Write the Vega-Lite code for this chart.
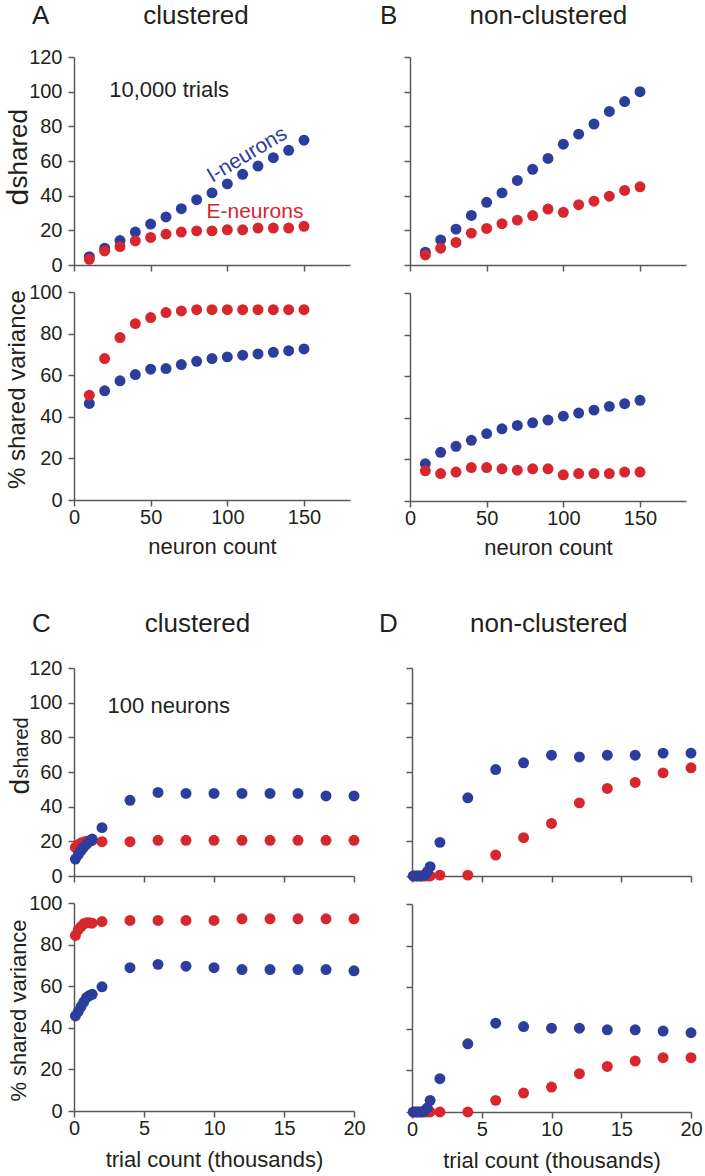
{
 "$schema": "https://vega.github.io/schema/vega-lite/v6.json",
 "background": "white",
 "padding": {"left": 3, "top": 3, "right": 5, "bottom": 5},
 "config": {
  "view": {"stroke": null},
  "font": "Liberation Sans",
  "axis": {"grid": false, "domainColor": "#58595b", "tickColor": "#58595b", "domainWidth": 1.5, "tickWidth": 1.5, "tickSize": 6, "labelFont": "Liberation Sans", "labelFontSize": 20, "labelColor": "#231f20", "labelPadding": 6, "labelFlush": false, "labelOverlap": false, "titleFont": "Liberation Sans", "titleFontWeight": "normal", "titleColor": "#231f20"},
  "title": {"font": "Liberation Sans", "fontSize": 26, "fontWeight": "normal", "color": "#231f20", "anchor": "start", "frame": "group", "baseline": "alphabetic"},
  "text": {"font": "Liberation Sans"}
 },
 "datasets": {
  "pts": [
   {"panel":"A1","type":"I","x":10,"y":4.8},{"panel":"A1","type":"I","x":20,"y":9.7},{"panel":"A1","type":"I","x":30,"y":14.1},{"panel":"A1","type":"I","x":40,"y":19.0},{"panel":"A1","type":"I","x":50,"y":23.6},{"panel":"A1","type":"I","x":60,"y":27.7},{"panel":"A1","type":"I","x":70,"y":32.5},{"panel":"A1","type":"I","x":80,"y":37.7},{"panel":"A1","type":"I","x":90,"y":41.6},{"panel":"A1","type":"I","x":100,"y":46.8},{"panel":"A1","type":"I","x":110,"y":52.3},{"panel":"A1","type":"I","x":120,"y":57.1},{"panel":"A1","type":"I","x":130,"y":61.9},{"panel":"A1","type":"I","x":140,"y":66.2},{"panel":"A1","type":"I","x":150,"y":72.0},
   {"panel":"A1","type":"E","x":10,"y":3.3},{"panel":"A1","type":"E","x":20,"y":8.1},{"panel":"A1","type":"E","x":30,"y":10.6},{"panel":"A1","type":"E","x":40,"y":13.9},{"panel":"A1","type":"E","x":50,"y":15.9},{"panel":"A1","type":"E","x":60,"y":17.8},{"panel":"A1","type":"E","x":70,"y":19.0},{"panel":"A1","type":"E","x":80,"y":19.7},{"panel":"A1","type":"E","x":90,"y":19.7},{"panel":"A1","type":"E","x":100,"y":20.3},{"panel":"A1","type":"E","x":110,"y":20.3},{"panel":"A1","type":"E","x":120,"y":21.3},{"panel":"A1","type":"E","x":130,"y":21.3},{"panel":"A1","type":"E","x":140,"y":21.3},{"panel":"A1","type":"E","x":150,"y":22.3},
   {"panel":"A2","type":"I","x":10,"y":46.4},{"panel":"A2","type":"I","x":20,"y":52.5},{"panel":"A2","type":"I","x":30,"y":57.3},{"panel":"A2","type":"I","x":40,"y":60.3},{"panel":"A2","type":"I","x":50,"y":62.9},{"panel":"A2","type":"I","x":60,"y":63.2},{"panel":"A2","type":"I","x":70,"y":65.1},{"panel":"A2","type":"I","x":80,"y":66.7},{"panel":"A2","type":"I","x":90,"y":68.0},{"panel":"A2","type":"I","x":100,"y":68.8},{"panel":"A2","type":"I","x":110,"y":69.6},{"panel":"A2","type":"I","x":120,"y":70.2},{"panel":"A2","type":"I","x":130,"y":71.0},{"panel":"A2","type":"I","x":140,"y":71.8},{"panel":"A2","type":"I","x":150,"y":72.6},
   {"panel":"A2","type":"E","x":10,"y":50.4},{"panel":"A2","type":"E","x":20,"y":68.0},{"panel":"A2","type":"E","x":30,"y":78.1},{"panel":"A2","type":"E","x":40,"y":84.8},{"panel":"A2","type":"E","x":50,"y":87.7},{"panel":"A2","type":"E","x":60,"y":90.1},{"panel":"A2","type":"E","x":70,"y":90.9},{"panel":"A2","type":"E","x":80,"y":91.5},{"panel":"A2","type":"E","x":90,"y":91.5},{"panel":"A2","type":"E","x":100,"y":91.5},{"panel":"A2","type":"E","x":110,"y":91.5},{"panel":"A2","type":"E","x":120,"y":91.5},{"panel":"A2","type":"E","x":130,"y":91.5},{"panel":"A2","type":"E","x":140,"y":91.5},{"panel":"A2","type":"E","x":150,"y":91.5},
   {"panel":"B1","type":"I","x":10,"y":7.4},{"panel":"B1","type":"I","x":20,"y":14.5},{"panel":"B1","type":"I","x":30,"y":20.7},{"panel":"B1","type":"I","x":40,"y":28.6},{"panel":"B1","type":"I","x":50,"y":36.2},{"panel":"B1","type":"I","x":60,"y":41.6},{"panel":"B1","type":"I","x":70,"y":48.8},{"panel":"B1","type":"I","x":80,"y":55.2},{"panel":"B1","type":"I","x":90,"y":61.5},{"panel":"B1","type":"I","x":100,"y":69.7},{"panel":"B1","type":"I","x":110,"y":75.5},{"panel":"B1","type":"I","x":120,"y":81.3},{"panel":"B1","type":"I","x":130,"y":88.6},{"panel":"B1","type":"I","x":140,"y":94.3},{"panel":"B1","type":"I","x":150,"y":100.0},
   {"panel":"B1","type":"E","x":10,"y":5.8},{"panel":"B1","type":"E","x":20,"y":9.7},{"panel":"B1","type":"E","x":30,"y":13.0},{"panel":"B1","type":"E","x":40,"y":18.4},{"panel":"B1","type":"E","x":50,"y":21.1},{"panel":"B1","type":"E","x":60,"y":23.8},{"panel":"B1","type":"E","x":70,"y":25.9},{"panel":"B1","type":"E","x":80,"y":28.5},{"panel":"B1","type":"E","x":90,"y":32.3},{"panel":"B1","type":"E","x":100,"y":30.4},{"panel":"B1","type":"E","x":110,"y":34.8},{"panel":"B1","type":"E","x":120,"y":36.8},{"panel":"B1","type":"E","x":130,"y":39.7},{"panel":"B1","type":"E","x":140,"y":43.0},{"panel":"B1","type":"E","x":150,"y":45.1},
   {"panel":"B2","type":"I","x":10,"y":17.9},{"panel":"B2","type":"I","x":20,"y":23.4},{"panel":"B2","type":"I","x":30,"y":26.3},{"panel":"B2","type":"I","x":40,"y":29.2},{"panel":"B2","type":"I","x":50,"y":32.4},{"panel":"B2","type":"I","x":60,"y":34.7},{"panel":"B2","type":"I","x":70,"y":36.3},{"panel":"B2","type":"I","x":80,"y":37.6},{"panel":"B2","type":"I","x":90,"y":38.9},{"panel":"B2","type":"I","x":100,"y":40.8},{"panel":"B2","type":"I","x":110,"y":42.3},{"panel":"B2","type":"I","x":120,"y":43.7},{"panel":"B2","type":"I","x":130,"y":45.5},{"panel":"B2","type":"I","x":140,"y":46.8},{"panel":"B2","type":"I","x":150,"y":48.4},
   {"panel":"B2","type":"E","x":10,"y":14.5},{"panel":"B2","type":"E","x":20,"y":13.2},{"panel":"B2","type":"E","x":30,"y":13.9},{"panel":"B2","type":"E","x":40,"y":16.1},{"panel":"B2","type":"E","x":50,"y":16.1},{"panel":"B2","type":"E","x":60,"y":15.5},{"panel":"B2","type":"E","x":70,"y":14.8},{"panel":"B2","type":"E","x":80,"y":15.5},{"panel":"B2","type":"E","x":90,"y":15.5},{"panel":"B2","type":"E","x":100,"y":12.6},{"panel":"B2","type":"E","x":110,"y":13.2},{"panel":"B2","type":"E","x":120,"y":13.2},{"panel":"B2","type":"E","x":130,"y":13.2},{"panel":"B2","type":"E","x":140,"y":13.9},{"panel":"B2","type":"E","x":150,"y":13.9},
   {"panel":"C1","type":"E","x":0.1,"y":16.5},{"panel":"C1","type":"E","x":0.3,"y":18.0},{"panel":"C1","type":"E","x":0.5,"y":19.0},{"panel":"C1","type":"E","x":0.7,"y":19.6},{"panel":"C1","type":"E","x":0.9,"y":20.0},{"panel":"C1","type":"E","x":1.1,"y":20.3},{"panel":"C1","type":"E","x":1.3,"y":20.5},{"panel":"C1","type":"E","x":2,"y":19.8},{"panel":"C1","type":"E","x":4,"y":19.8},{"panel":"C1","type":"E","x":6,"y":20.6},{"panel":"C1","type":"E","x":8,"y":20.6},{"panel":"C1","type":"E","x":10,"y":20.6},{"panel":"C1","type":"E","x":12,"y":20.6},{"panel":"C1","type":"E","x":14,"y":20.6},{"panel":"C1","type":"E","x":16,"y":20.6},{"panel":"C1","type":"E","x":18,"y":20.6},{"panel":"C1","type":"E","x":20,"y":20.6},
   {"panel":"C1","type":"I","x":0.1,"y":9.8},{"panel":"C1","type":"I","x":0.3,"y":12.3},{"panel":"C1","type":"I","x":0.5,"y":14.6},{"panel":"C1","type":"I","x":0.7,"y":16.6},{"panel":"C1","type":"I","x":0.9,"y":18.4},{"panel":"C1","type":"I","x":1.1,"y":20.0},{"panel":"C1","type":"I","x":1.3,"y":21.3},{"panel":"C1","type":"I","x":2,"y":27.9},{"panel":"C1","type":"I","x":4,"y":43.7},{"panel":"C1","type":"I","x":6,"y":48.2},{"panel":"C1","type":"I","x":8,"y":47.6},{"panel":"C1","type":"I","x":10,"y":47.6},{"panel":"C1","type":"I","x":12,"y":47.6},{"panel":"C1","type":"I","x":14,"y":47.6},{"panel":"C1","type":"I","x":16,"y":47.6},{"panel":"C1","type":"I","x":18,"y":46.2},{"panel":"C1","type":"I","x":20,"y":46.2},
   {"panel":"C2","type":"E","x":0.1,"y":84.4},{"panel":"C2","type":"E","x":0.3,"y":87.1},{"panel":"C2","type":"E","x":0.5,"y":88.7},{"panel":"C2","type":"E","x":0.7,"y":90.0},{"panel":"C2","type":"E","x":0.9,"y":90.5},{"panel":"C2","type":"E","x":1.1,"y":90.5},{"panel":"C2","type":"E","x":1.3,"y":90.3},{"panel":"C2","type":"E","x":2,"y":91.1},{"panel":"C2","type":"E","x":4,"y":91.6},{"panel":"C2","type":"E","x":6,"y":91.6},{"panel":"C2","type":"E","x":8,"y":91.6},{"panel":"C2","type":"E","x":10,"y":91.6},{"panel":"C2","type":"E","x":12,"y":92.4},{"panel":"C2","type":"E","x":14,"y":92.4},{"panel":"C2","type":"E","x":16,"y":92.4},{"panel":"C2","type":"E","x":18,"y":92.4},{"panel":"C2","type":"E","x":20,"y":92.4},
   {"panel":"C2","type":"I","x":0.1,"y":45.7},{"panel":"C2","type":"I","x":0.3,"y":47.8},{"panel":"C2","type":"I","x":0.5,"y":50.2},{"panel":"C2","type":"I","x":0.7,"y":52.5},{"panel":"C2","type":"I","x":0.9,"y":54.6},{"panel":"C2","type":"I","x":1.1,"y":55.5},{"panel":"C2","type":"I","x":1.3,"y":56.1},{"panel":"C2","type":"I","x":2,"y":59.7},{"panel":"C2","type":"I","x":4,"y":68.9},{"panel":"C2","type":"I","x":6,"y":70.5},{"panel":"C2","type":"I","x":8,"y":69.6},{"panel":"C2","type":"I","x":10,"y":68.9},{"panel":"C2","type":"I","x":12,"y":68.0},{"panel":"C2","type":"I","x":14,"y":68.0},{"panel":"C2","type":"I","x":16,"y":68.0},{"panel":"C2","type":"I","x":18,"y":68.0},{"panel":"C2","type":"I","x":20,"y":67.4},
   {"panel":"D1","type":"E","x":0.1,"y":0},{"panel":"D1","type":"E","x":0.3,"y":0},{"panel":"D1","type":"E","x":0.5,"y":0},{"panel":"D1","type":"E","x":0.7,"y":0},{"panel":"D1","type":"E","x":0.9,"y":0},{"panel":"D1","type":"E","x":1.1,"y":0},{"panel":"D1","type":"E","x":1.3,"y":0},{"panel":"D1","type":"E","x":2,"y":0.5},{"panel":"D1","type":"E","x":4,"y":0.5},{"panel":"D1","type":"E","x":6,"y":12.1},{"panel":"D1","type":"E","x":8,"y":22.1},{"panel":"D1","type":"E","x":10,"y":30.3},{"panel":"D1","type":"E","x":12,"y":42.2},{"panel":"D1","type":"E","x":14,"y":50.5},{"panel":"D1","type":"E","x":16,"y":54.0},{"panel":"D1","type":"E","x":18,"y":59.5},{"panel":"D1","type":"E","x":20,"y":62.4},
   {"panel":"D1","type":"I","x":0.1,"y":0},{"panel":"D1","type":"I","x":0.3,"y":0},{"panel":"D1","type":"I","x":0.5,"y":0},{"panel":"D1","type":"I","x":0.7,"y":0},{"panel":"D1","type":"I","x":0.9,"y":0.5},{"panel":"D1","type":"I","x":1.1,"y":2.5},{"panel":"D1","type":"I","x":1.3,"y":5.4},{"panel":"D1","type":"I","x":2,"y":19.4},{"panel":"D1","type":"I","x":4,"y":45.1},{"panel":"D1","type":"I","x":6,"y":61.4},{"panel":"D1","type":"I","x":8,"y":65.3},{"panel":"D1","type":"I","x":10,"y":69.7},{"panel":"D1","type":"I","x":12,"y":68.7},{"panel":"D1","type":"I","x":14,"y":69.7},{"panel":"D1","type":"I","x":16,"y":69.7},{"panel":"D1","type":"I","x":18,"y":70.9},{"panel":"D1","type":"I","x":20,"y":70.9},
   {"panel":"D2","type":"E","x":0.1,"y":0},{"panel":"D2","type":"E","x":0.3,"y":0},{"panel":"D2","type":"E","x":0.5,"y":0},{"panel":"D2","type":"E","x":0.7,"y":0},{"panel":"D2","type":"E","x":0.9,"y":0},{"panel":"D2","type":"E","x":1.1,"y":0},{"panel":"D2","type":"E","x":1.3,"y":0},{"panel":"D2","type":"E","x":2,"y":0},{"panel":"D2","type":"E","x":4,"y":0},{"panel":"D2","type":"E","x":6,"y":5.6},{"panel":"D2","type":"E","x":8,"y":9.1},{"panel":"D2","type":"E","x":10,"y":12.0},{"panel":"D2","type":"E","x":12,"y":18.4},{"panel":"D2","type":"E","x":14,"y":21.9},{"panel":"D2","type":"E","x":16,"y":24.5},{"panel":"D2","type":"E","x":18,"y":26.1},{"panel":"D2","type":"E","x":20,"y":26.1},
   {"panel":"D2","type":"I","x":0.1,"y":0},{"panel":"D2","type":"I","x":0.3,"y":0},{"panel":"D2","type":"I","x":0.5,"y":0},{"panel":"D2","type":"I","x":0.7,"y":0},{"panel":"D2","type":"I","x":0.9,"y":0.5},{"panel":"D2","type":"I","x":1.1,"y":2.0},{"panel":"D2","type":"I","x":1.3,"y":5.6},{"panel":"D2","type":"I","x":2,"y":16.0},{"panel":"D2","type":"I","x":4,"y":32.8},{"panel":"D2","type":"I","x":6,"y":42.7},{"panel":"D2","type":"I","x":8,"y":41.1},{"panel":"D2","type":"I","x":10,"y":40.3},{"panel":"D2","type":"I","x":12,"y":40.3},{"panel":"D2","type":"I","x":14,"y":39.5},{"panel":"D2","type":"I","x":16,"y":39.5},{"panel":"D2","type":"I","x":18,"y":38.9},{"panel":"D2","type":"I","x":20,"y":38.1}
  ]
 },
 "spacing": 53,
 "vconcat": [
  {
   "hconcat": [
    {
     "spacing": 7,
     "vconcat": [
      {
       "width": 276, "height": 208,
       "title": {"text": "A\u00a0\u00a0\u00a0\u00a0\u00a0\u00a0\u00a0\u00a0\u00a0\u00a0\u00a0\u00a0\u00a0clustered", "dx": -42, "offset": 18},
       "resolve": {"axis": {"y": "independent"}},
       "layer": [
        {
         "data": {"name": "pts"},
         "transform": [{"filter": "datum.panel === 'A1'"}],
         "mark": {"type": "circle", "size": 120, "opacity": 1},
         "encoding": {
          "x": {"field": "x", "type": "quantitative", "scale": {"domain": [0, 180], "nice": false, "zero": false}, "axis": {"values": [0, 50, 100, 150], "labels": false, "title": null}},
          "y": {"field": "y", "type": "quantitative", "scale": {"domain": [0, 120], "nice": false}, "axis": {"orient": "left", "values": [0, 20, 40, 60, 80, 100, 120], "title": "shared", "titleFontSize": 26, "titleAngle": 270, "titleAlign": "left", "titleBaseline": "alphabetic", "titleX": -48, "titleY": 131}},
          "color": {"field": "type", "type": "nominal", "scale": {"domain": ["I", "E"], "range": ["#2c3e9b", "#d7262e"]}, "legend": null}
         }
        },
        {
         "data": {"values": [{}]},
         "mark": {"type": "text", "fontSize": 22, "align": "left", "baseline": "alphabetic", "color": "#231f20"},
         "encoding": {
          "x": {"datum": 23, "type": "quantitative", "axis": {"values": [0, 50, 100, 150], "labels": false, "title": null}},
          "y": {"datum": 97, "type": "quantitative", "axis": {"orient": "left", "domain": false, "ticks": false, "labels": false, "title": "d", "titleFontSize": 30, "titleAngle": 270, "titleAlign": "left", "titleBaseline": "alphabetic", "titleX": -47, "titleY": 148}},
          "text": {"value": "10,000 trials"}
         }
        },
        {
         "data": {"values": [{}]},
         "mark": {"type": "text", "fontSize": 21, "align": "center", "baseline": "middle", "angle": 329, "color": "#2c3e9b"},
         "encoding": {
          "x": {"datum": 113, "type": "quantitative", "axis": {"values": [0, 50, 100, 150], "labels": false, "title": null}},
          "y": {"datum": 63.5, "type": "quantitative", "axis": null},
          "text": {"value": "I-neurons"}
         }
        },
        {
         "data": {"values": [{}]},
         "mark": {"type": "text", "fontSize": 21, "align": "center", "baseline": "middle", "color": "#d7262e"},
         "encoding": {
          "x": {"datum": 118, "type": "quantitative", "axis": {"values": [0, 50, 100, 150], "labels": false, "title": null}},
          "y": {"datum": 30.5, "type": "quantitative", "axis": null},
          "text": {"value": "E-neurons"}
         }
        }
       ]
      },
      {
       "width": 276, "height": 208,
       "data": {"name": "pts"},
       "transform": [{"filter": "datum.panel === 'A2'"}],
       "mark": {"type": "circle", "size": 120, "opacity": 1},
       "encoding": {
        "x": {"field": "x", "type": "quantitative", "scale": {"domain": [0, 180], "nice": false, "zero": false}, "axis": {"values": [0, 50, 100, 150], "labelPadding": 1, "title": "neuron count", "titleFontSize": 22, "titleBaseline": "alphabetic", "titleY": 53}},
        "y": {"field": "y", "type": "quantitative", "scale": {"domain": [0, 100], "nice": false}, "axis": {"values": [0, 20, 40, 60, 80, 100], "title": "% shared variance", "titleFontSize": 24, "titleAngle": 270, "titleAlign": "center", "titleBaseline": "alphabetic", "titleX": -50, "titleY": 97}},
        "color": {"field": "type", "type": "nominal", "scale": {"domain": ["I", "E"], "range": ["#2c3e9b", "#d7262e"]}, "legend": null}
       }
      }
     ]
    },
    {
     "spacing": 20,
     "vconcat": [
      {
       "width": 276, "height": 208,
       "title": {"text": "B\u00a0\u00a0\u00a0\u00a0\u00a0\u00a0\u00a0\u00a0\u00a0\u00a0non-clustered", "dx": -30, "offset": 27},
       "data": {"name": "pts"},
       "transform": [{"filter": "datum.panel === 'B1'"}],
       "mark": {"type": "circle", "size": 120, "opacity": 1},
       "encoding": {
        "x": {"field": "x", "type": "quantitative", "scale": {"domain": [0, 180], "nice": false, "zero": false}, "axis": {"values": [0, 50, 100, 150], "labels": false, "title": null}},
        "y": {"field": "y", "type": "quantitative", "scale": {"domain": [0, 120], "nice": false}, "axis": {"values": [0, 20, 40, 60, 80, 100, 120], "labels": false, "title": null}},
        "color": {"field": "type", "type": "nominal", "scale": {"domain": ["I", "E"], "range": ["#2c3e9b", "#d7262e"]}, "legend": null}
       }
      },
      {
       "width": 276, "height": 208,
       "data": {"name": "pts"},
       "transform": [{"filter": "datum.panel === 'B2'"}],
       "mark": {"type": "circle", "size": 120, "opacity": 1},
       "encoding": {
        "x": {"field": "x", "type": "quantitative", "scale": {"domain": [0, 180], "nice": false, "zero": false}, "axis": {"values": [0, 50, 100, 150], "labelPadding": 1, "title": "neuron count", "titleFontSize": 22, "titleBaseline": "alphabetic", "titleY": 53}},
        "y": {"field": "y", "type": "quantitative", "scale": {"domain": [0, 100], "nice": false}, "axis": {"values": [0, 20, 40, 60, 80, 100], "labels": false, "title": null}},
        "color": {"field": "type", "type": "nominal", "scale": {"domain": ["I", "E"], "range": ["#2c3e9b", "#d7262e"]}, "legend": null}
       }
      }
     ]
    }
   ],
   "spacing": 30
  },
  {
   "hconcat": [
    {
     "spacing": 7,
     "vconcat": [
      {
       "width": 280, "height": 208,
       "title": {"text": "C\u00a0\u00a0\u00a0\u00a0\u00a0\u00a0\u00a0\u00a0\u00a0\u00a0\u00a0\u00a0\u00a0clustered", "dx": -42, "offset": 21},
       "resolve": {"axis": {"y": "independent"}},
       "layer": [
        {
         "data": {"name": "pts"},
         "transform": [{"filter": "datum.panel === 'C1'"}],
         "mark": {"type": "circle", "size": 120, "opacity": 1},
         "encoding": {
          "x": {"field": "x", "type": "quantitative", "scale": {"domain": [0, 20], "nice": false, "zero": false}, "axis": {"values": [0, 5, 10, 15, 20], "labels": false, "title": null}},
          "y": {"field": "y", "type": "quantitative", "scale": {"domain": [0, 120], "nice": false}, "axis": {"orient": "left", "values": [0, 20, 40, 60, 80, 100, 120], "title": "shared", "titleFontSize": 20, "titleAngle": 270, "titleAlign": "left", "titleBaseline": "alphabetic", "titleX": -47, "titleY": 110}},
          "color": {"field": "type", "type": "nominal", "scale": {"domain": ["I", "E"], "range": ["#2c3e9b", "#d7262e"]}, "legend": null}
         }
        },
        {
         "data": {"values": [{}]},
         "mark": {"type": "text", "fontSize": 22, "align": "left", "baseline": "alphabetic", "color": "#231f20"},
         "encoding": {
          "x": {"datum": 2.4, "type": "quantitative", "axis": {"values": [0, 5, 10, 15, 20], "labels": false, "title": null}},
          "y": {"datum": 94.3, "type": "quantitative", "axis": {"orient": "left", "domain": false, "ticks": false, "labels": false, "title": "d", "titleFontSize": 28, "titleAngle": 270, "titleAlign": "left", "titleBaseline": "alphabetic", "titleX": -46, "titleY": 126}},
          "text": {"value": "100 neurons"}
         }
        }
       ]
      },
      {
       "width": 280, "height": 208,
       "data": {"name": "pts"},
       "transform": [{"filter": "datum.panel === 'C2'"}],
       "mark": {"type": "circle", "size": 120, "opacity": 1},
       "encoding": {
        "x": {"field": "x", "type": "quantitative", "scale": {"domain": [0, 20], "nice": false, "zero": false}, "axis": {"values": [0, 5, 10, 15, 20], "labelPadding": 1, "title": "trial count (thousands)", "titleFontSize": 22, "titleBaseline": "alphabetic", "titleY": 55}},
        "y": {"field": "y", "type": "quantitative", "scale": {"domain": [0, 100], "nice": false}, "axis": {"values": [0, 20, 40, 60, 80, 100], "title": "% shared variance", "titleFontSize": 22, "titleAngle": 270, "titleAlign": "center", "titleBaseline": "alphabetic", "titleX": -49, "titleY": 107}},
        "color": {"field": "type", "type": "nominal", "scale": {"domain": ["I", "E"], "range": ["#2c3e9b", "#d7262e"]}, "legend": null}
       }
      }
     ]
    },
    {
     "spacing": 20,
     "vconcat": [
      {
       "width": 279, "height": 208,
       "title": {"text": "D\u00a0\u00a0\u00a0\u00a0\u00a0\u00a0\u00a0\u00a0\u00a0\u00a0non-clustered", "dx": -33, "offset": 30},
       "data": {"name": "pts"},
       "transform": [{"filter": "datum.panel === 'D1'"}],
       "mark": {"type": "circle", "size": 120, "opacity": 1},
       "encoding": {
        "x": {"field": "x", "type": "quantitative", "scale": {"domain": [0, 20], "nice": false, "zero": false}, "axis": {"values": [0, 5, 10, 15, 20], "labels": false, "title": null}},
        "y": {"field": "y", "type": "quantitative", "scale": {"domain": [0, 120], "nice": false}, "axis": {"values": [0, 20, 40, 60, 80, 100, 120], "labels": false, "title": null}},
        "color": {"field": "type", "type": "nominal", "scale": {"domain": ["I", "E"], "range": ["#2c3e9b", "#d7262e"]}, "legend": null}
       }
      },
      {
       "width": 279, "height": 208,
       "data": {"name": "pts"},
       "transform": [{"filter": "datum.panel === 'D2'"}],
       "mark": {"type": "circle", "size": 120, "opacity": 1},
       "encoding": {
        "x": {"field": "x", "type": "quantitative", "scale": {"domain": [0, 20], "nice": false, "zero": false}, "axis": {"values": [0, 5, 10, 15, 20], "labelPadding": 1, "title": "trial count (thousands)", "titleFontSize": 22, "titleBaseline": "alphabetic", "titleY": 55}},
        "y": {"field": "y", "type": "quantitative", "scale": {"domain": [0, 100], "nice": false}, "axis": {"values": [0, 20, 40, 60, 80, 100], "labels": false, "title": null}},
        "color": {"field": "type", "type": "nominal", "scale": {"domain": ["I", "E"], "range": ["#2c3e9b", "#d7262e"]}, "legend": null}
       }
      }
     ]
    }
   ],
   "spacing": 13
  }
 ]
}
